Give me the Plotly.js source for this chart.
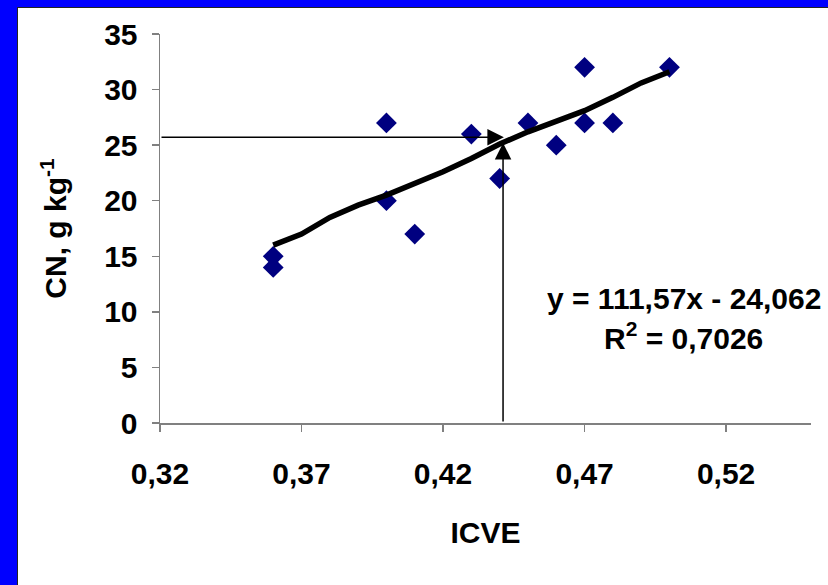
<!DOCTYPE html>
<html><head><meta charset="utf-8">
<script src="https://cdn.plot.ly/plotly-3.0.1.min.js"></script>
<style>
html,body{margin:0;padding:0;background:#0000FF;width:828px;height:585px;overflow:hidden;}
#chart{position:absolute;left:17px;top:7px;width:811px;height:578px;border-left:1px solid #222;border-top:1px solid #222;background:#fff;}
</style></head><body><div id="chart"></div>
<script>
// observed data
const icve = [0.36, 0.36, 0.40, 0.40, 0.41, 0.43, 0.44, 0.45, 0.46, 0.47, 0.47, 0.48, 0.50];
const cn   = [15,   14,   27,   20,   17,   26,   22,   27,   25,   32,   27,   27,   32];
// fitted line as drawn in the picture
const trendX = [0.36, 0.37, 0.38, 0.39, 0.40, 0.41, 0.42, 0.43, 0.44, 0.45, 0.46, 0.47, 0.48, 0.49, 0.50];
const trendY = [16.0, 17.0, 18.5, 19.6, 20.5, 21.5, 22.6, 23.8, 25.1, 26.2, 27.2, 28.1, 29.3, 30.6, 31.6];
// tick labels
const xTickVals = [0.32, 0.37, 0.42, 0.47, 0.52];
const xTickText = ['0,32', '0,37', '0,42', '0,47', '0,52'];
const yTickVals = [0, 5, 10, 15, 20, 25, 30, 35];
const yTickText = ['0', '5', '10', '15', '20', '25', '30', '35'];
// reading guide arrows: [tail, head]
const hArrowX = [0.32, 0.4415];
const hArrowY = [25.7, 25.7];
const vArrowX = [0.4412, 0.4412];
const vArrowY = [0, 25.2];
const eqLines = ['y = 111,57x - 24,062', 'R<sup>2</sup> = 0,7026'];

const FONT = 'Liberation Sans, Arial, sans-serif';
const tickFont = {family: FONT, size: 30, color: '#000', weight: 'bold'};
const eqFont = {family: FONT, size: 30, color: '#000', weight: 'bold'};

const traces = [
  {x: icve, y: cn, type: 'scatter', mode: 'markers',
   marker: {symbol: 'diamond', size: 16, color: '#000080', line: {width: 0}},
   hoverinfo: 'x+y', showlegend: false},
  {x: trendX, y: trendY, type: 'scatter', mode: 'lines',
   line: {color: '#000', width: 5.5, shape: 'linear'},
   hoverinfo: 'skip', showlegend: false}
];

const arrowStyle = {xref: 'x', yref: 'y', axref: 'x', ayref: 'y', text: '', showarrow: true,
  arrowhead: 2, arrowsize: 2.2, arrowwidth: 1.5, arrowcolor: '#000'};

const layout = {
  width: 811, height: 578,
  margin: {l: 142, r: 18, t: 26, b: 163},
  paper_bgcolor: '#fff', plot_bgcolor: '#fff',
  showlegend: false,
  xaxis: {
    range: [0.32, 0.55], tickvals: xTickVals, ticktext: xTickText,
    showgrid: false, zeroline: false, showline: true, linecolor: '#808080', linewidth: 1.5,
    ticks: 'outside', ticklen: 7, tickcolor: '#808080', tickwidth: 1.5,
    tickfont: tickFont, ticklabelstandoff: 16,
    title: {text: 'ICVE', font: tickFont, standoff: 33}
  },
  yaxis: {
    range: [0, 35], tickvals: yTickVals, ticktext: yTickText,
    showgrid: false, zeroline: false, showline: true, linecolor: '#808080', linewidth: 1.5,
    ticks: 'outside', ticklen: 7, tickcolor: '#808080', tickwidth: 1.5,
    tickfont: tickFont, ticklabelstandoff: 8,
    title: {text: 'CN, g kg<sup>-1</sup>', font: tickFont, standoff: 28}
  },
  annotations: [
    Object.assign({x: hArrowX[1], y: hArrowY[1], ax: hArrowX[0], ay: hArrowY[0]}, arrowStyle),
    Object.assign({x: vArrowX[1], y: vArrowY[1], ax: vArrowX[0], ay: vArrowY[0]}, arrowStyle),
    {xref: 'x', yref: 'y', x: 0.505, y: 11.2, text: eqLines[0], showarrow: false,
     xanchor: 'center', yanchor: 'middle', font: eqFont},
    {xref: 'x', yref: 'y', x: 0.505, y: 7.85, text: eqLines[1], showarrow: false,
     xanchor: 'center', yanchor: 'middle', font: eqFont}
  ]
};

Plotly.newPlot('chart', traces, layout, {displayModeBar: false, staticPlot: true});
</script></body></html>
